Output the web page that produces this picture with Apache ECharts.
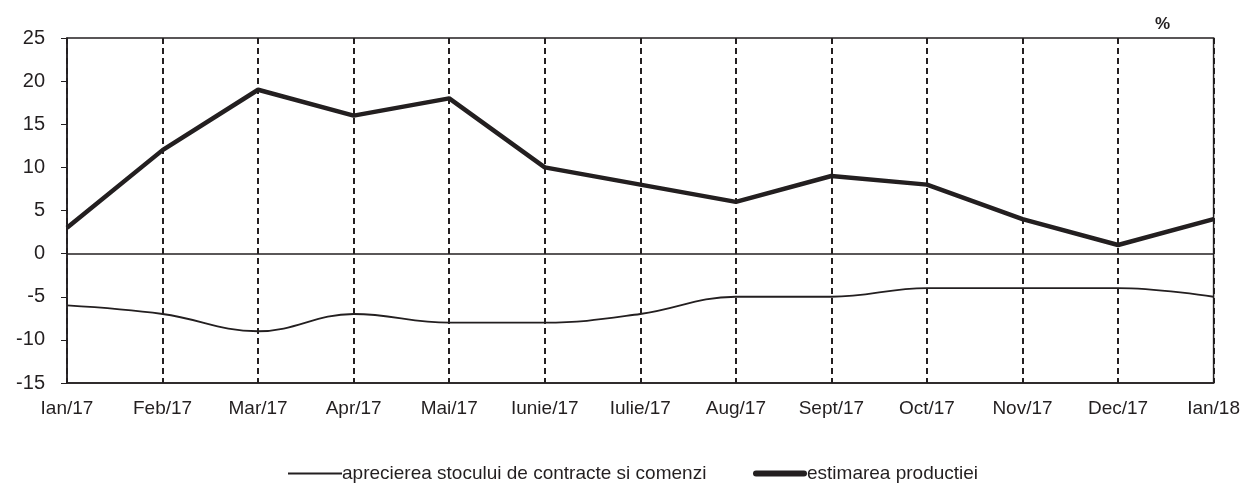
<!DOCTYPE html>
<html><head><meta charset="utf-8">
<script src="https://cdn.jsdelivr.net/npm/echarts@6/dist/echarts.min.js"></script>
<style>html,body{margin:0;padding:0;background:#fff}#c{width:1243px;height:488px}</style>
</head><body><div id="c"></div>
<script>
var categories = ['Ian/17','Feb/17','Mar/17','Apr/17','Mai/17','Iunie/17','Iulie/17','Aug/17','Sept/17','Oct/17','Nov/17','Dec/17','Ian/18'];
var stocContracte = [-6,-7,-9,-7,-8,-8,-7,-5,-5,-4,-4,-4,-5];
var estimareaProductiei = [3,12,19,16,18,10,8,6,9,8,4,1,4];
var seriesNames = ['aprecierea stocului de contracte si comenzi','estimarea productiei'];

var font = '"Liberation Sans",Arial,sans-serif';
var legendText = {fontFamily:font,fontSize:19,color:'#231f20',padding:[0,0,0,-5]};
var chart = echarts.init(document.getElementById('c'));
chart.setOption({
  animation:false,
  backgroundColor:'#fff',
  grid:{left:67,right:28,top:38,bottom:105,show:true,borderColor:'#231f20',borderWidth:1.5,backgroundColor:'transparent'},
  title:{text:'%',right:68,top:11,textStyle:{fontFamily:font,fontSize:17,fontWeight:'bold',color:'#231f20'}},
  legend:[
    {bottom:0,left:283,itemWidth:54,itemHeight:12,symbolKeepAspect:true,textStyle:legendText,
     data:[{name:seriesNames[0],icon:'path://M0,0H54V1.8H0Z'}]},
    {bottom:0,left:748,itemWidth:54,itemHeight:8,symbolKeepAspect:true,textStyle:legendText,
     data:[{name:seriesNames[1],icon:'path://M3,0H51A3,3,0,0,1,51,6H3A3,3,0,0,1,3,0Z'}]}
  ],
  xAxis:{type:'category',data:categories,boundaryGap:false,
    axisLine:{onZero:false,lineStyle:{color:'#231f20',width:1.5}},
    axisTick:{show:false},
    axisLabel:{fontFamily:font,fontSize:19,color:'#231f20',margin:16},
    splitLine:{show:true,lineStyle:{type:[6,4],color:'#231f20',width:2}}},
  yAxis:{type:'value',min:-15,max:25,interval:5,
    axisLine:{show:true,lineStyle:{color:'#231f20',width:1.5}},
    axisTick:{show:true,length:6,lineStyle:{color:'#231f20'}},
    axisLabel:{fontFamily:font,fontSize:20,color:'#231f20',margin:22},
    splitLine:{show:false}},
  series:[
    {name:seriesNames[0],type:'line',data:stocContracte,smooth:0.4,symbol:'none',
     lineStyle:{color:'#231f20',width:1.8},itemStyle:{color:'#231f20'},
     markLine:{silent:true,symbol:'none',label:{show:false},lineStyle:{color:'#231f20',width:1.5,type:'solid'},data:[{yAxis:0}]}},
    {name:seriesNames[1],type:'line',data:estimareaProductiei,symbol:'none',
     lineStyle:{color:'#231f20',width:4.5},itemStyle:{color:'#231f20'}}
  ]
});
</script></body></html>
